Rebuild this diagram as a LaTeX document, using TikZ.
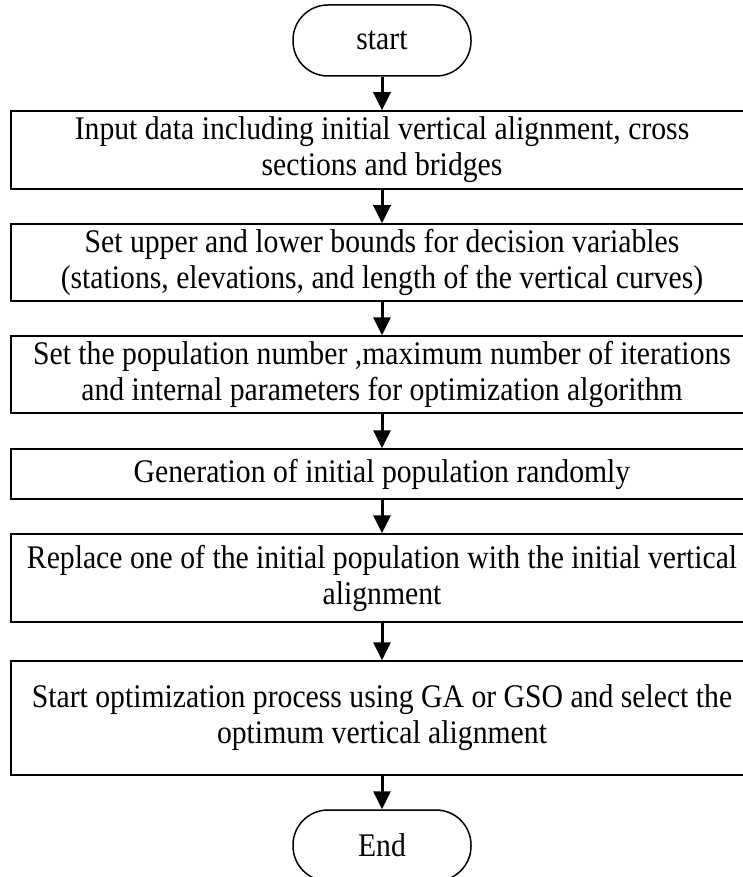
\documentclass[tikz,border=0pt]{standalone}
\usepackage{fontspec}
\setmainfont[FakeStretch=0.9]{Liberation Serif}
\usetikzlibrary{arrows.meta}
\begin{document}
\begin{tikzpicture}[x=1pt,y=1pt,
  box/.style={draw,line width=1.5pt,minimum width=742pt,align=center,inner sep=0pt,font=\fontsize{33}{36}\selectfont},
  term/.style={draw,line width=1.5pt,rounded corners=35pt,minimum width=178pt,minimum height=71pt,inner sep=0pt,font=\fontsize{33}{36}\selectfont},
  arr/.style={-{Triangle[width=17pt,length=18pt]},line width=3pt}]
\useasboundingbox (0,0) rectangle (743,-877);
\node[term] (A) at (382,-40.5) {start};
\node[box,minimum height=78pt] (B) at (382,-150) {Input data including initial vertical alignment, cross\\sections and bridges};
\node[box,minimum height=77pt] (C) at (382,-262.5) {Set upper and lower bounds for decision variables\\(stations, elevations, and length of the vertical curves)};
\node[box,minimum height=77pt] (D) at (382,-374.5) {Set the population number ,maximum number of iterations\\and internal parameters for optimization algorithm};
\node[box,minimum height=50pt] (E) at (382,-474) {Generation of initial population randomly};
\node[box,minimum height=88pt] (F) at (382,-578) {Replace one of the initial population with the initial vertical\\alignment};
\node[box,minimum height=114pt] (G) at (382,-718) {Start optimization process using GA or GSO and select the\\optimum vertical alignment};
\node[term] (H) at (382,-845.5) {End};
\draw[arr] (A) -- (B);
\draw[arr] (B) -- (C);
\draw[arr] (C) -- (D);
\draw[arr] (D) -- (E);
\draw[arr] (E) -- (F);
\draw[arr] (F) -- (G);
\draw[arr] (G) -- (H);
\end{tikzpicture}
\end{document}
